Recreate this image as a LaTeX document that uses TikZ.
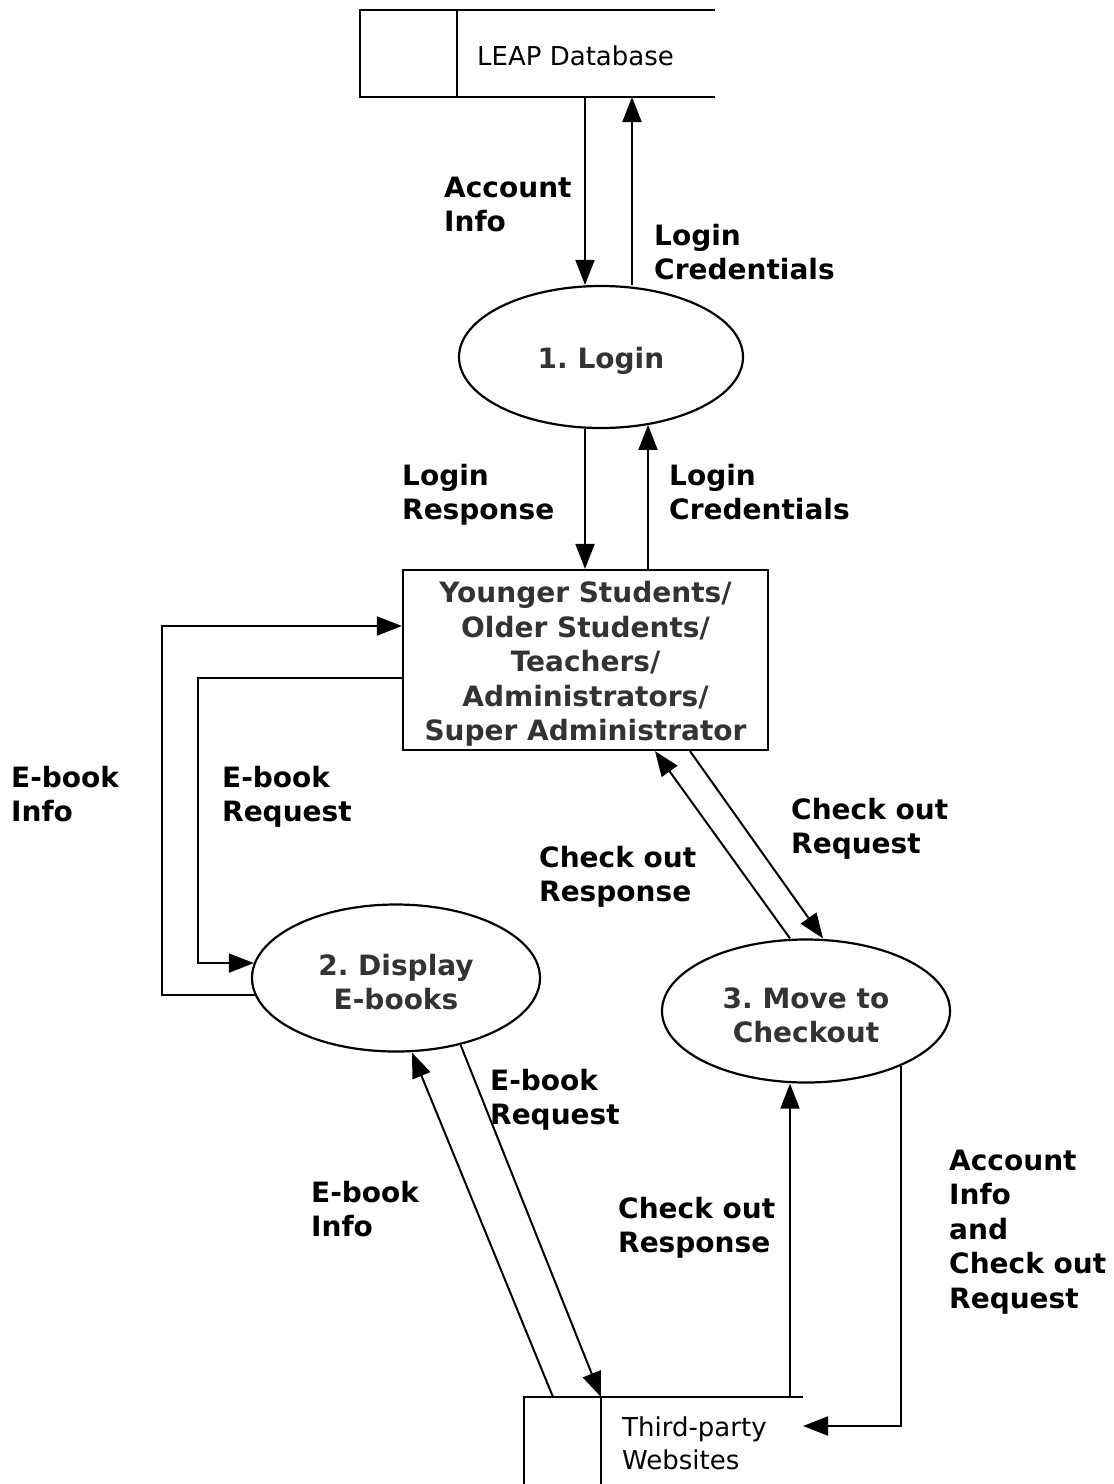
\documentclass[tikz,border=0pt]{standalone}
\usepackage{fontspec}
\setmainfont{DejaVu Sans}
\usetikzlibrary{arrows.meta,shapes.geometric}
\definecolor{proctext}{HTML}{333333}
% strut that lowers centred node text a little
\newcommand{\toppad}{\rule{0pt}{29pt}}
\frenchspacing
\begin{document}
\begin{tikzpicture}[x=1pt,y=-1pt,
  flow/.style={line width=2pt,-{Triangle[length=25pt,width=19pt]}},
  edge/.style={line width=2pt},
  proc/.style={ellipse,draw,line width=2.2pt,inner sep=0pt,text=proctext,
    font=\fontsize{28}{34.5}\selectfont\bfseries,align=center},
  actor/.style={rectangle,draw,line width=2.2pt,inner sep=0pt,text=proctext,
    font=\fontsize{28}{34.5}\selectfont\bfseries,align=center},
  store/.style={rectangle,inner sep=0pt,outer sep=0pt},
  % multi-line labels: the given point is the baseline of the last line
  lbl/.style={anchor=base west,inner sep=0pt,align=left,
    font=\fontsize{28}{34.5}\selectfont\bfseries},
  storetxt/.style={anchor=base west,inner sep=0pt,align=left,
    font=\fontsize{26}{33}\selectfont}
]
\useasboundingbox (0,0) rectangle (1114,1484);

% data store: LEAP Database
\node[store,minimum width=355pt,minimum height=87pt] (db) at (537.5,53.5) {};
\draw[edge] (db.north east) -- (db.north west) -- (db.south west) -- (db.south east);
\draw[edge] ([xshift=97pt]db.north west) -- ([xshift=97pt]db.south west);
\node[storetxt] (dbtxt) at (477,65) {LEAP Database};

% processes and external entity
\node[proc,minimum width=284pt,minimum height=142pt] (login) at (601,357) {\toppad 1. Login};
\node[actor,minimum width=365pt,minimum height=180pt] (actors) at (585.5,660)
  {\toppad Younger Students/\\Older Students/\\Teachers/\\Administrators/\\Super Administrator};
\node[proc,minimum width=288pt,minimum height=147pt] (disp) at (396,978) {\toppad 2. Display\\E-books};
\node[proc,minimum width=288pt,minimum height=143pt] (chk) at (806,1011) {\toppad 3. Move to\\Checkout};

% data store: Third-party Websites
\node[store,minimum width=279pt,minimum height=103pt] (tp) at (663.5,1448.5) {};
\draw[edge] (tp.north east) -- (tp.north west) -- (tp.south west);
\draw[edge] ([xshift=77pt]tp.north west) -- ([xshift=77pt]tp.south west);
\node[storetxt] (tptxt) at (622,1469) {Third-party\\Websites};

% flows
\draw[flow] (585,0 |- db.south) -- (585,0 |- login.north);
\draw[flow] (632,0 |- login.north) -- (632,0 |- db.south);
\draw[flow] (585,0 |- login.south) -- (585,0 |- actors.north);
\draw[flow] (648,0 |- actors.north) -- (648,0 |- login.-55);
\draw[flow] (disp.187) -| (162,626) -- (actors.west |- 0,626);
\draw[flow] (actors.west |- 0,678) -- (198,678) |- (disp.174);
\draw[flow] (790,0 |- chk.north) -- (655,0 |- actors.south);
\draw[flow] (690,0 |- actors.south) -- (823,0 |- chk.north);
\draw[flow] (553,0 |- tp.north) -- (412,0 |- disp.south);
\draw[flow] (disp.-46) -- (601,0 |- tp.north);
\draw[flow] (790,0 |- tp.north) -- (790,0 |- chk.south);
\draw[flow] (chk.-30.5) |- ([yshift=-29pt]tp.north east);

% flow labels
\node[lbl] (l1) at (444,231.5) {Account\\Info};
\node[lbl] (l2) at (654,279.5) {Login\\Credentials};
\node[lbl] (l3) at (402,519.5) {Login\\Response};
\node[lbl] (l4) at (669,519.5) {Login\\Credentials};
\node[lbl] (l5) at (11,821.5) {E-book\\Info};
\node[lbl] (l6) at (222,821.5) {E-book\\Request};
\node[lbl] (l7) at (791,853.5) {Check out\\Request};
\node[lbl] (l8) at (539,901.5) {Check out\\Response};
\node[lbl] (l9) at (490,1124.5) {E-book\\Request};
\node[lbl] (l10) at (311,1236.5) {E-book\\Info};
\node[lbl] (l11) at (618,1252.5) {Check out\\Response};
\node[lbl] (l12) at (949,1308) {Account\\Info\\and\\Check out\\Request};
\end{tikzpicture}
\end{document}
